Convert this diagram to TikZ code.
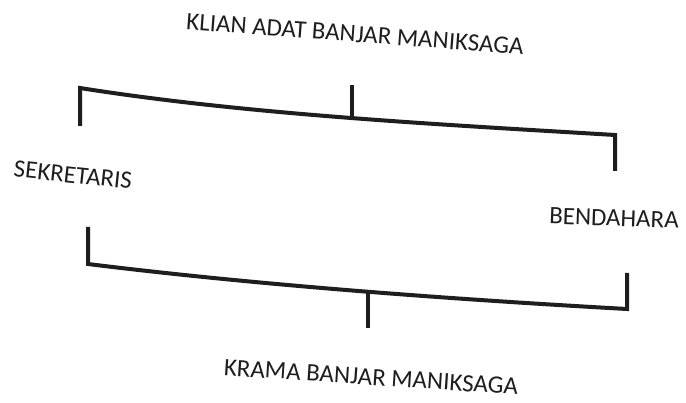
\documentclass[tikz,border=0pt]{standalone}
\usepackage{fontspec}
\setmainfont{Carlito}
\definecolor{ink}{HTML}{1E1E1E}
\begin{document}
\begin{tikzpicture}[x=1pt,y=-1pt,
  bracket/.style={draw=ink,line width=4pt,line join=miter},
  label/.style={text=ink,font=\fontsize{25}{28}\selectfont,inner sep=0pt}]
\useasboundingbox[fill=white] (0,0) rectangle (686,403);
% text nodes
\node[label,rotate=-4.3] (klian) at (355,34) {KLIAN ADAT BANJAR MANIKSAGA};
\node[label,rotate=-6] (sek) at (73,175) {SEKRETARIS};
\node[label,rotate=-2] (ben) at (614,218) {BENDAHARA};
\node[label,rotate=-3.8] (krama) at (371,377) {KRAMA BANJAR MANIKSAGA};
% top bracket
\coordinate (tl0) at (80,126);
\coordinate (tl) at (80,88);
\coordinate (tr) at (615,135);
\coordinate (tr0) at (615,171);
\coordinate (ts0) at (352,85);
\coordinate (ts) at (352,118);
\draw[bracket] (tl0) -- (tl) .. controls (250,115) and (450,125) .. (tr) -- (tr0);
\draw[bracket] (ts0) -- (ts);
% bottom bracket
\coordinate (bl0) at (88,227);
\coordinate (bl) at (88,264);
\coordinate (br) at (627,309);
\coordinate (br0) at (627,273);
\coordinate (bs0) at (368,291);
\coordinate (bs) at (368,328);
\draw[bracket] (bl0) -- (bl) .. controls (265,286) and (465,300) .. (br) -- (br0);
\draw[bracket] (bs0) -- (bs);
\end{tikzpicture}
\end{document}
